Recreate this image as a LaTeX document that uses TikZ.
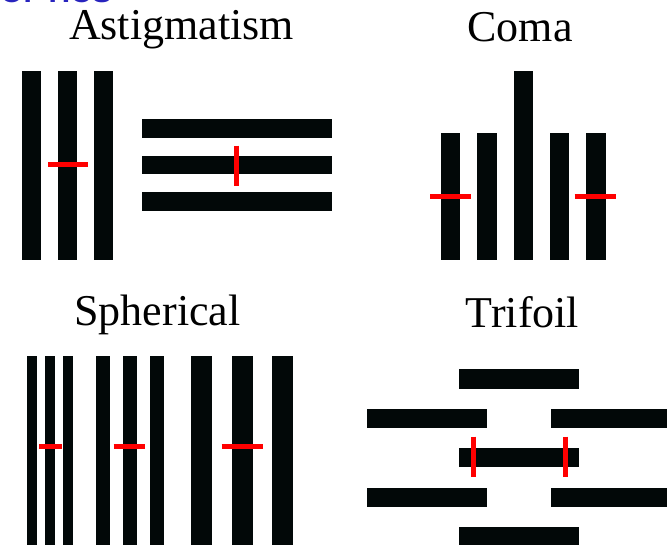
\documentclass[tikz,border=0pt]{standalone}
\usepackage{fontspec}
\setmainfont{Liberation Serif}
\setsansfont{Liberation Sans}
\definecolor{barblack}{RGB}{2,8,8}
\definecolor{titleblue}{RGB}{40,36,190}
\begin{document}
\begin{tikzpicture}[x=1pt,y=-1pt,
  bar/.style={fill=barblack},
  redmark/.style={draw=red, line width=5pt},
  title/.style={font=\fontsize{44}{50}\selectfont, anchor=base, inner sep=0pt}]
\useasboundingbox (0,0) rectangle (667,545);
\fill[white] (0,0) rectangle (667,545);
% cut-off heading fragment
\begin{scope}
\clip (0,0) rectangle (667,545);
\node[anchor=base west, inner sep=0pt, text=titleblue, font=\sffamily\bfseries\fontsize{30}{32}\selectfont] (frag) at (0,2.5) {OPTICS};
\end{scope}
% titles
\node[title] (astig) at (181.5,40) {Astigmatism};
\node[title] (coma) at (520,41.5) {Coma};
\node[title] (sph) at (157.5,325.5) {Spherical};
\node[title] (tri) at (522.5,328) {Trifoil};
% Astigmatism
\fill[bar] (22,71) rectangle (41,260);
\fill[bar] (58,71) rectangle (77,260);
\fill[bar] (94,71) rectangle (113,260);
\draw[redmark] (48,165) -- (88,165);
\fill[bar] (142,119.3) rectangle (332,138.3);
\fill[bar] (142,155.7) rectangle (332,174.3);
\fill[bar] (142,192) rectangle (332,210.7);
\draw[redmark] (236,145.7) -- (236,185.7);
% Coma
\fill[bar] (441,132.7) rectangle (460.3,260.3);
\fill[bar] (477.3,132.7) rectangle (496.7,260.3);
\fill[bar] (513.7,70.7) rectangle (532.7,260.3);
\fill[bar] (550,132.7) rectangle (569.3,260.3);
\fill[bar] (586.3,132.7) rectangle (605.7,260.3);
\draw[redmark] (430,196.7) -- (471,196.7);
\draw[redmark] (574.7,196.7) -- (615.7,196.7);
% Spherical
\fill[bar] (27.3,355.7) rectangle (36.7,545);
\fill[bar] (45.3,355.7) rectangle (54.7,545);
\fill[bar] (63.3,355.7) rectangle (73,545);
\fill[bar] (95.7,355.7) rectangle (109.7,545);
\fill[bar] (123,355.7) rectangle (137,545);
\fill[bar] (150.3,355.7) rectangle (164.3,545);
\fill[bar] (191,355.7) rectangle (212,545);
\fill[bar] (231.7,355.7) rectangle (252.7,545);
\fill[bar] (272,355.7) rectangle (293.3,545);
\draw[redmark, line width=4.5pt] (39,446.7) -- (61.7,446.7);
\draw[redmark, line width=4.5pt] (113.7,446.7) -- (145.3,446.7);
\draw[redmark, line width=4.5pt] (221.7,446.7) -- (262.7,446.7);
% Trifoil
\fill[bar] (459.3,369.3) rectangle (579,388.7);
\fill[bar] (367.3,409.3) rectangle (487,428);
\fill[bar] (551.3,409.3) rectangle (667,428);
\fill[bar] (459.3,448.3) rectangle (579,467.3);
\fill[bar] (367.3,488) rectangle (487,507);
\fill[bar] (551.3,488) rectangle (667,507);
\fill[bar] (459.3,527.3) rectangle (579,545);
\draw[redmark] (473.3,436.7) -- (473.3,477.3);
\draw[redmark] (565.3,436.7) -- (565.3,477.3);
\end{tikzpicture}
\end{document}
